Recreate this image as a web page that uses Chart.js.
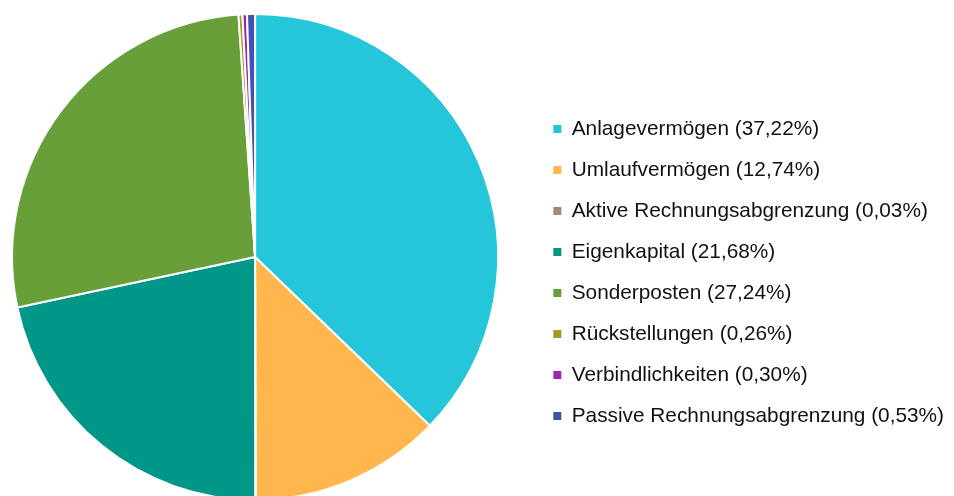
<!DOCTYPE html>
<html>
<head>
<meta charset="utf-8">
<script src="https://cdn.jsdelivr.net/npm/chart.js@4/dist/chart.umd.min.js"></script>
<style>
  html, body { margin: 0; padding: 0; background: #fff; overflow: hidden; }
  body { width: 954px; height: 496px; position: relative; }
  #wrap { position: absolute; left: -26px; top: 0; width: 980px; height: 514px; }
</style>
</head>
<body>
<div id="wrap"><canvas id="bilanz"></canvas></div>
<script>
const posten = [
    'Anlagevermögen',
    'Umlaufvermögen',
    'Aktive Rechnungsabgrenzung',
    'Eigenkapital',
    'Sonderposten',
    'Rückstellungen',
    'Verbindlichkeiten',
    'Passive Rechnungsabgrenzung'
]
const anteile = [37.22, 12.74, 0.03, 21.68, 27.24, 0.26, 0.30, 0.53]
const farben = ['#26C6DA', '#FFB74D', '#A1887F', '#009688', '#689F38', '#9E9D24', '#9C27B0', '#3F51B5']

const labels = posten.map((p, i) => p + ' (' + anteile[i].toFixed(2).replace('.', ',') + '%)')

const ctx = document.getElementById('bilanz')

new Chart(ctx, {
    type: 'pie',
    data: {
        labels: labels,
        datasets: [
            {
                data: anteile,
                backgroundColor: farben,
                borderColor: '#ffffff',
                borderWidth: 2,
                radius: 243
            }
        ]
    },
    options: {
        responsive: true,
        maintainAspectRatio: false,
        animation: false,
        layout: { padding: { left: 3 } },
        plugins: {
            tooltip: { enabled: false },
            legend: {
                position: 'right',
                align: 'center',
                title: {
                    display: true,
                    text: ' ',
                    font: { size: 10, lineHeight: 1 },
                    padding: { top: 0, bottom: 21 }
                },
                labels: {
                    boxWidth: 8,
                    boxHeight: 8,
                    padding: 20.2,
                    color: '#111111',
                    font: { family: "'Liberation Sans', Arial, sans-serif", size: 20.8 },
                    generateLabels(chart) {
                        const items = Chart.overrides.pie.plugins.legend.labels.generateLabels(chart)
                        return items.map(it => ({ ...it, lineWidth: 0 }))
                    }
                }
            }
        }
    }
})
</script>
</body>
</html>
